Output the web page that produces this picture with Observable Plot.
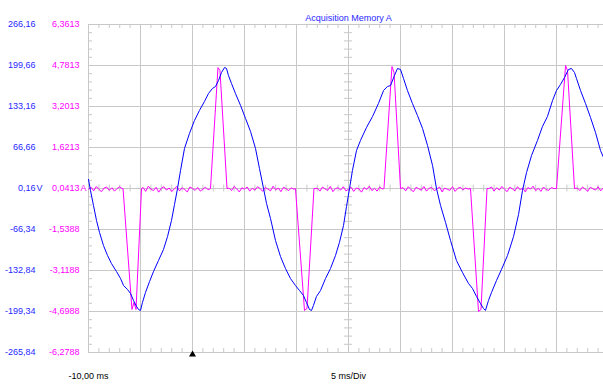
<!DOCTYPE html>
<html><head><meta charset="utf-8">
<script src="https://cdn.jsdelivr.net/npm/d3@7"></script>
<script src="https://cdn.jsdelivr.net/npm/@observablehq/plot@0.6"></script>
<style>html,body{margin:0;padding:0;background:#fff;overflow:hidden;}</style>
</head><body><div id="chart"></div>
<script>
const title = "Acquisition Memory A";
const xStartLabel = "-10,00 ms";
const xScaleLabel = "5 ms/Div";
const timeTicks = [-10, -5, 0, 5, 10, 15, 20, 25, 30, 35, 40];
const voltTicks = [266.16, 199.66, 133.16, 66.66, 0.16, -66.34, -132.84, -199.34, -265.84];
const voltLabels = ["266,16", "199,66", "133,16", "66,66", "0,16", "-66,34", "-132,84", "-199,34", "-265,84"];
const ampLabels = ["6,3613", "4,7813", "3,2013", "1,6213", "0,0413", "-1,5388", "-3,1188", "-4,6988", "-6,2788"];
const voltUnit = "V";
const ampUnit = "A";

// voltage trace: [time ms, volts]
const voltage = [
[-10.00,14.8],[-9.81,-3.1],[-9.52,-27.4],[-9.23,-51.7],[-8.94,-71.2],[-8.56,-92.3],[-8.17,-108.5],[-7.79,-121.5],
[-7.31,-134.5],[-6.92,-145.8],[-6.63,-157.2],[-6.25,-163.7],[-5.96,-170.1],[-5.67,-181.5],[-5.38,-191.2],[-5.19,-196.1],
[-5.00,-197.7],[-4.81,-184.7],[-4.52,-168.5],[-4.13,-150.7],[-3.75,-134.5],[-3.27,-116.6],[-2.79,-98.8],[-2.40,-77.7],
[-2.02,-51.7],[-1.73,-25.8],[-1.44,0.2],[-1.15,29.4],[-0.77,65.0],[-0.29,89.4],[0.19,110.5],[0.67,126.7],
[1.15,141.3],[1.54,154.3],[1.92,162.4],[2.21,165.6],[2.50,175.3],[2.79,188.3],[3.08,196.4],[3.27,194.8],
[3.46,183.4],[3.75,170.5],[4.13,154.3],[4.62,134.8],[5.10,113.7],[5.58,92.6],[6.06,65.0],[6.44,32.6],
[6.83,0.2],[7.12,-24.2],[7.50,-48.5],[7.98,-84.2],[8.46,-110.1],[8.94,-129.6],[9.42,-145.8],[9.90,-157.2],
[10.29,-165.3],[10.67,-173.4],[10.96,-184.7],[11.25,-196.1],[11.44,-197.7],[11.63,-189.6],[11.92,-175.0],[12.31,-165.3],
[12.79,-145.8],[13.27,-129.6],[13.75,-108.5],[14.13,-87.4],[14.52,-59.9],[14.81,-29.0],[15.10,0.2],[15.38,29.4],
[15.77,61.8],[16.15,78.0],[16.73,99.1],[17.31,116.9],[17.88,138.0],[18.37,159.1],[18.75,165.6],[19.04,167.2],
[19.42,183.4],[19.71,194.8],[20.00,193.2],[20.29,178.6],[20.67,159.1],[21.15,138.0],[21.63,118.6],[22.12,97.5],
[22.60,69.9],[23.08,37.5],[23.46,0.2],[23.85,-27.4],[24.33,-55.0],[24.81,-84.2],[25.38,-116.6],[25.96,-136.1],
[26.54,-153.9],[26.92,-162.0],[27.31,-175.0],[27.69,-186.4],[27.98,-194.5],[28.17,-197.7],[28.46,-181.5],[28.75,-168.5],
[29.23,-149.1],[29.71,-131.2],[30.29,-108.5],[30.87,-77.7],[31.35,-42.0],[31.73,-3.1],[32.12,26.1],[32.60,53.7],
[33.17,78.0],[33.65,100.7],[34.13,116.9],[34.62,142.9],[35.00,159.1],[35.38,168.8],[35.77,180.2],[36.15,193.2],
[36.44,194.8],[36.73,188.3],[36.92,178.6],[37.31,159.1],[37.79,138.0],[38.27,115.3],[38.75,91.0],[39.23,61.8],
[39.52,50.4]
];

// current trace: [time ms, amperes]
const current = [
[-10.00,0.02],[-9.75,0.09],[-9.50,-0.05],[-9.25,0.12],[-9.00,0.01],[-8.75,-0.08],[-8.50,0.06],[-8.25,0.10],[-8.00,-0.03],[-7.75,0.07],[-7.50,-0.06],[-7.25,0.04],[-7.00,0.11],[-6.75,0.03],
[-6.68,0.04],[-5.82,-4.62],[-5.63,-4.35],[-5.43,-4.62],[-4.90,0.04],
[-4.75,0.08],[-4.50,-0.07],[-4.25,0.13],[-4.00,0.02],[-3.75,-0.04],[-3.50,0.09],[-3.25,-0.10],[-3.00,0.05],[-2.75,0.11],[-2.50,-0.02],[-2.25,0.06],[-2.00,-0.08],[-1.75,0.03],[-1.50,0.12],[-1.25,-0.05],[-1.00,0.07],[-0.75,0.00],[-0.50,-0.09],[-0.25,0.10],[0.00,0.04],[0.25,-0.03],[0.50,0.08],[0.75,-0.06],[1.00,0.02],[1.25,0.09],[1.50,-0.01],
[1.73,0.04],[2.45,4.70],[2.64,4.59],[3.32,0.04],
[3.50,0.06],[3.75,-0.04],[4.00,0.12],[4.25,0.03],[4.50,-0.09],[4.75,0.07],[5.00,0.01],[5.25,0.10],[5.50,-0.06],[5.75,0.05],[6.00,-0.02],[6.25,0.11],[6.50,0.04],[6.75,-0.07],[7.00,0.08],[7.25,0.02],[7.50,-0.05],[7.75,0.13],[8.00,-0.01],[8.25,0.06],[8.50,-0.08],[8.75,0.09],[9.00,0.03],[9.25,-0.04],[9.50,0.07],[9.75,0.01],
[9.90,0.04],[10.77,-4.66],[11.01,-4.58],[11.68,0.04],
[12.00,0.05],[12.25,-0.06],[12.50,0.10],[12.75,0.02],[13.00,-0.03],[13.25,0.12],[13.50,-0.08],[13.75,0.04],[14.00,0.07],[14.25,-0.02],[14.50,0.11],[14.75,-0.05],[15.00,0.01],[15.25,0.09],[15.50,-0.07],[15.75,0.06],[16.00,0.03],[16.25,-0.10],[16.50,0.08],[16.75,0.00],[17.00,0.13],[17.25,-0.04],[17.50,0.05],[17.75,-0.06],[18.00,0.10],[18.25,0.02],
[18.41,0.04],[19.18,4.74],[19.38,4.51],[20.00,0.04],
[20.25,0.07],[20.50,-0.05],[20.75,0.11],[21.00,0.00],[21.25,-0.08],[21.50,0.09],[21.75,0.03],[22.00,-0.02],[22.25,0.12],[22.50,-0.06],[22.75,0.05],[23.00,0.08],[23.25,-0.04],[23.50,0.02],[23.75,0.10],[24.00,-0.09],[24.25,0.06],[24.50,0.01],[24.75,-0.03],[25.00,0.11],[25.25,-0.07],[25.50,0.04],[25.75,0.09],[26.00,-0.01],[26.25,0.06],[26.50,0.02],
[26.73,0.04],[27.50,-4.70],[27.74,-4.62],[28.32,0.04],
[28.50,0.04],[28.75,0.10],[29.00,-0.06],[29.25,0.07],[29.50,-0.02],[29.75,0.12],[30.00,0.01],[30.25,-0.08],[30.50,0.09],[30.75,0.03],[31.00,-0.05],[31.25,0.11],[31.50,-0.01],[31.75,0.06],[32.00,-0.09],[32.25,0.08],[32.50,0.02],[32.75,0.13],[33.00,-0.04],[33.25,0.05],[33.50,-0.07],[33.75,0.10],[34.00,0.00],[34.25,-0.03],[34.50,0.08],[34.75,0.04],
[35.00,0.04],[35.87,4.78],[36.06,4.59],[36.73,0.04],
[37.00,0.06],[37.25,-0.04],[37.50,0.10],[37.75,0.02],[38.00,-0.07],[38.25,0.09],[38.50,0.03],[38.75,-0.02],[39.00,0.11],[39.25,-0.05],[39.50,0.07],[39.75,0.01],[40.00,0.05]
];

// scope channel scales: volts/div and amps/div with their center values
const voltCenter = 0.16, voltPerDiv = 66.5;
const ampCenter = 0.0413, ampPerDiv = 1.58;
const ampToVolt = a => voltCenter + (a - ampCenter) / ampPerDiv * voltPerDiv;

const xMin = -10, xMax = 40, xCenter = 15, yMin = -265.84, yMax = 266.16;
const minorT = d3.range(xMin, xMax + 0.001, 1);
const minorV = d3.range(0, 41).map(i => yMin + i * voltPerDiv / 5);
const tickLenT = 5 / 52 * 4;      // 4px in ms
const tickLenV = voltPerDiv / 41 * 4; // 4px in volts

const grid = "#c8c8c8";
const blue = "#0000ff";
const blueText = "#2828ff";
const magenta = "#ff00ff";
const font = "Liberation Sans, Arial, sans-serif";

const chart = Plot.plot({
  width: 603,
  height: 386,
  marginLeft: 88,
  marginRight: -5,
  marginTop: 24,
  marginBottom: 34,
  style: {fontFamily: font, fontSize: "9px", background: "#fff"},
  x: {domain: [xMin, xMax], axis: null},
  y: {domain: [yMin, yMax], axis: null},
  marks: [
    Plot.ruleX(timeTicks, {x: d => d, stroke: grid, strokeWidth: 1}),
    Plot.ruleY(voltTicks, {y: d => d, stroke: grid, strokeWidth: 1}),
    // minor ticks on bottom and top edges
    Plot.ruleX(minorT, {x: d => d, y1: () => yMin, y2: () => yMin + tickLenV, stroke: grid}),
    Plot.ruleX(minorT, {x: d => d, y1: () => yMax, y2: () => yMax - tickLenV, stroke: grid}),
    // minor ticks on left edge
    Plot.ruleY(minorV, {y: d => d, x1: () => xMin, x2: () => xMin + tickLenT, stroke: grid}),
    // crossing ticks on center lines
    Plot.ruleY(minorV, {y: d => d, x1: () => xCenter - tickLenT, x2: () => xCenter + tickLenT, stroke: grid}),
    Plot.ruleX(minorT, {x: d => d, y1: () => voltCenter - tickLenV * 0.85, y2: () => voltCenter + tickLenV * 0.85, stroke: grid}),
    // traces
    Plot.line(current, {x: d => d[0], y: d => ampToVolt(d[1]), stroke: magenta, strokeWidth: 1}),
    Plot.line(voltage, {x: d => d[0], y: d => d[1], stroke: blue, strokeWidth: 1}),
    // y labels
    Plot.text(voltTicks, {y: d => d, text: (d, i) => voltLabels[i], frameAnchor: "left", textAnchor: "end", dx: -53, fill: blueText, fontSize: 9}),
    Plot.text(voltTicks, {y: d => d, text: (d, i) => ampLabels[i], frameAnchor: "left", textAnchor: "end", dx: -9, fill: magenta, fontSize: 9}),
    Plot.text([voltCenter], {y: d => d, text: () => voltUnit, frameAnchor: "left", textAnchor: "start", dx: -52, fill: blueText, fontSize: 9}),
    Plot.text([voltCenter], {y: d => d, text: () => ampUnit, frameAnchor: "left", textAnchor: "start", dx: -8, fill: magenta, fontSize: 9}),
    // bottom labels
    Plot.text([xMin], {x: d => d, text: () => xStartLabel, frameAnchor: "bottom", dy: 26, fill: "#000", fontSize: 9}),
    Plot.text([xCenter], {x: d => d, text: () => xScaleLabel, frameAnchor: "bottom", dy: 26, fill: "#000", fontSize: 9}),
    // title, centred over the screen
    Plot.text([xCenter], {x: d => d, text: () => title, frameAnchor: "top", textAnchor: "middle", dy: -10, fill: blueText, fontSize: 9}),
    // trigger marker
    Plot.dot([0], {x: d => d, frameAnchor: "bottom", symbol: "triangle", r: 2.6, fill: "#000", stroke: "none", dy: 2})
  ]
});
document.getElementById("chart").appendChild(chart);
</script>
</body></html>
